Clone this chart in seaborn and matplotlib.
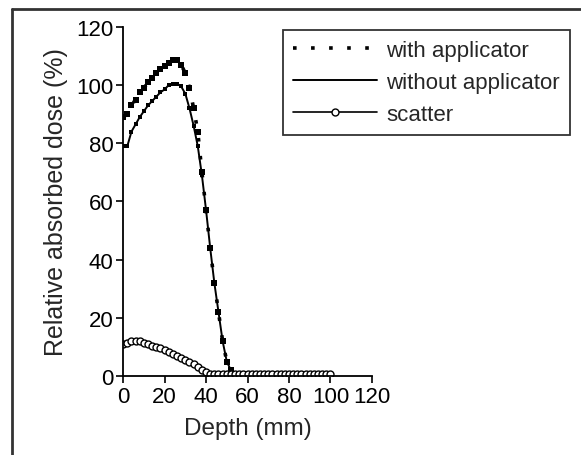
import matplotlib
matplotlib.use("Agg")
import matplotlib.pyplot as plt
from matplotlib.lines import Line2D
import seaborn as sns
import pandas as pd

# depth grid (mm)
depth = [0, 2, 4, 6, 8, 10, 12, 14, 16, 18, 20, 22, 24, 26, 28, 30, 32, 34, 36, 38,
         40, 42, 44, 46, 48, 50, 52, 54, 56, 58, 60, 62, 64, 66, 68, 70, 72, 74, 76,
         78, 80, 82, 84, 86, 88, 90, 92, 94, 96, 98, 100]

with_applicator = [89, 90, 93, 95, 97.5, 99, 101, 102.5, 104, 105.5, 106.5, 107.5, 108.5,
                   108.5, 107, 104, 99, 92, 84, 70, 57, 44, 32, 22, 12, 5, 2, 0,
                   0, 0, 0, 0, 0, 0, 0, 0, 0, 0, 0, 0, 0, 0, 0, 0, 0, 0, 0, 0, 0, 0, 0]

without_applicator = [79, 79, 84, 86.5, 89, 91, 93, 94.5, 96, 97.5, 98.5, 100, 100.5,
                      100.5, 99.5, 97, 92, 86, 79, 69, 57, 44, 32, 22, 12, 5, 2, 0,
                      0, 0, 0, 0, 0, 0, 0, 0, 0, 0, 0, 0, 0, 0, 0, 0, 0, 0, 0, 0, 0, 0, 0]

scatter = [11, 11.5, 12, 12.2, 12, 11.5, 11, 10.5, 10, 9.5, 9, 8.3, 7.6, 7, 6.3, 5.5,
           4.7, 4, 3, 2, 1.3, 0.8, 0.6, 0.6, 0.6, 0.6, 0.6, 0.6, 0.6, 0.6, 0.6, 0.6,
           0.6, 0.6, 0.6, 0.6, 0.6, 0.6, 0.6, 0.6, 0.6, 0.6, 0.6, 0.6, 0.6, 0.6, 0.6,
           0.6, 0.6, 0.6, 0.6]

xticks = [0, 20, 40, 60, 80, 100, 120]
yticks = [0, 20, 40, 60, 80, 100, 120]

df = pd.DataFrame({"depth": depth, "with": with_applicator,
                   "without": without_applicator, "scatter": scatter})

sns.set_style("ticks")
plt.rcParams["font.family"] = ["Liberation Sans", "DejaVu Sans"]

fig = plt.figure(figsize=(5.81, 4.56), dpi=100)
ax = fig.add_axes([0.212, 0.173, 0.428, 0.766])

# with applicator: dotted line, plus blobby square points on the curve
sns.lineplot(data=df, x="depth", y="with", ax=ax, color="black",
             linestyle=(0, (1, 4)), linewidth=2.6, label="with applicator")
sns.lineplot(data=df, x="depth", y="with", ax=ax, color="black", linestyle="none",
             marker="s", markersize=4, markeredgewidth=0)
sns.lineplot(data=df, x="depth", y="without", ax=ax, color="black",
             linewidth=1.4, label="without applicator")
sns.lineplot(data=df, x="depth", y="without", ax=ax, color="black", linestyle="none",
             marker="s", markersize=3.5, markeredgewidth=0)
sns.lineplot(data=df, x="depth", y="scatter", ax=ax, color="black", linewidth=1.2,
             marker="o", markersize=5, markerfacecolor="white",
             markeredgecolor="black", markeredgewidth=1.0, label="scatter")

ax.set_xlim(0, 120)
ax.set_ylim(0, 120)
ax.set_xticks(xticks)
ax.set_yticks(yticks)
ax.tick_params(labelsize=16, length=5, width=1.2, color="black", pad=2,
               labelcolor="black")
ax.set_xlabel("Depth (mm)", fontsize=17.5, labelpad=7)
ax.set_ylabel("Relative absorbed dose (%)", fontsize=18, labelpad=6)
for s in ["left", "bottom"]:
    ax.spines[s].set_linewidth(1.3)
    ax.spines[s].set_color("black")
sns.despine(ax=ax)

leg = ax.legend(loc="upper left", bbox_to_anchor=(0.487, 0.932),
                bbox_transform=fig.transFigure, fontsize=16, handlelength=3.8,
                frameon=True, fancybox=False, edgecolor="black",
                borderpad=0.45, labelspacing=0.5, handletextpad=0.4,
                borderaxespad=0)
leg.get_frame().set_linewidth(1.3)

# partial frame around the figure
fig.add_artist(Line2D([0.021, 1.0], [0.977, 0.977], color="#333333", lw=2,
                      transform=fig.transFigure))
fig.add_artist(Line2D([0.021, 0.021], [0.0, 0.977], color="#333333", lw=2,
                      transform=fig.transFigure))

fig.savefig("out.png", dpi=100)
